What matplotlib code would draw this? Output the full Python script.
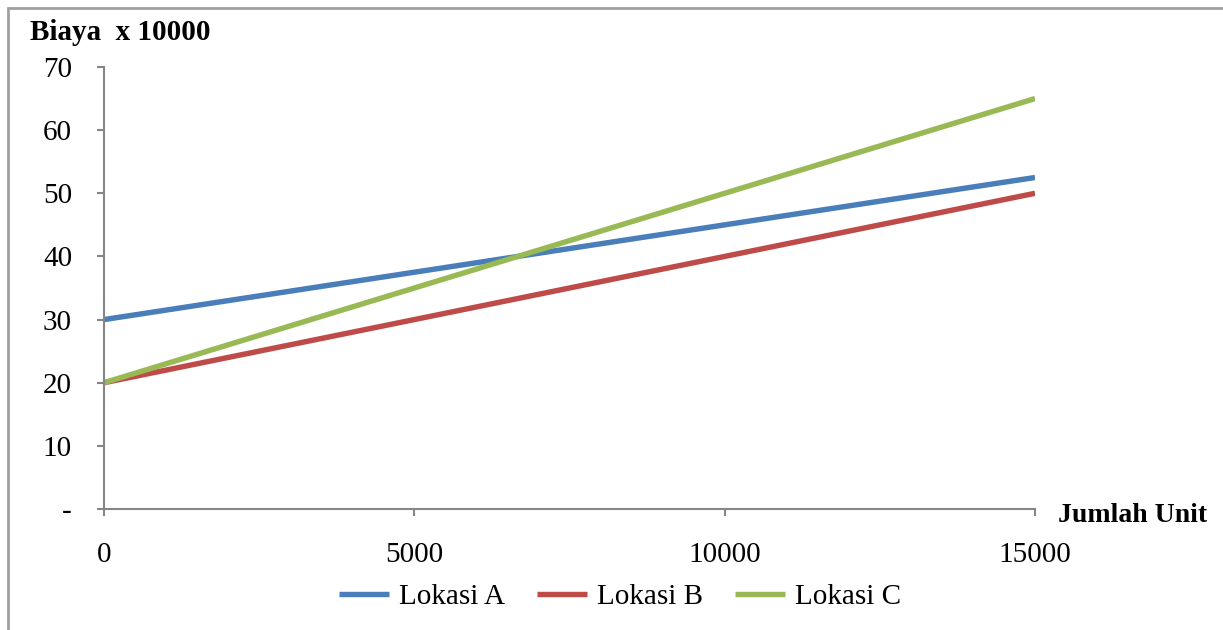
import matplotlib
matplotlib.use("Agg")
import matplotlib.pyplot as plt
from matplotlib.patches import Rectangle

# Biaya (x 10000) per jumlah unit untuk tiga lokasi
units = [0, 5000, 10000, 15000]
lokasi_a = [30, 37.5, 45, 52.5]
lokasi_b = [20, 30, 40, 50]
lokasi_c = [20, 35, 50, 65]
series_names = ["Lokasi A", "Lokasi B", "Lokasi C"]
colors = ["#4A7EBB", "#BE4B48", "#98B954"]
y_ticks = [0, 10, 20, 30, 40, 50, 60, 70]
y_labels = ["-", "10", "20", "30", "40", "50", "60", "70"]
x_ticks = [0, 5000, 10000, 15000]

plt.rcParams["font.family"] = ["Liberation Serif", "DejaVu Serif"]

fig = plt.figure(figsize=(12.23, 6.3), dpi=100)
W, H = 1223, 630
ax = fig.add_axes([104 / W, 1 - 509 / H, (1035 - 104) / W, (509 - 67) / H])

for vals, name, col in zip([lokasi_a, lokasi_b, lokasi_c], series_names, colors):
    ax.plot(units, vals, color=col, lw=3.9, label=name, solid_capstyle="butt")

ax.set_xlim(0, 15000)
ax.set_ylim(0, 70)
ax.set_yticks(y_ticks)
ax.set_yticklabels(y_labels)
ax.set_xticks(x_ticks)
ax.set_xticklabels([str(v) for v in x_ticks])

axis_gray = "#868686"
for side in ["top", "right"]:
    ax.spines[side].set_visible(False)
for side in ["left", "bottom"]:
    ax.spines[side].set_color(axis_gray)
    ax.spines[side].set_linewidth(1.5)
ax.tick_params(axis="both", colors=axis_gray, labelcolor="black", labelsize=21,
               direction="out", length=5, width=1.5)
ax.tick_params(axis="y", pad=18)
ax.tick_params(axis="x", pad=19)

fig.text(30 / W, 1 - 33 / H, "Biaya  x 10000", fontsize=21, fontweight="bold",
         ha="left", va="center")
fig.text(1058 / W, 1 - 515 / H, "Jumlah Unit", fontsize=20, fontweight="bold",
         ha="left", va="center")

leg = fig.legend(loc="center", bbox_to_anchor=(620 / W, 1 - 597 / H), ncol=3,
                 frameon=False, fontsize=21, handlelength=1.7, handletextpad=0.35,
                 columnspacing=1.1)

# chart area border
fig.patches.append(Rectangle((8 / W, -0.1), 1.2, 1 - 8 / H + 0.1, transform=fig.transFigure,
                             fill=False, edgecolor="#A0A0A0", lw=2, figure=fig))

fig.savefig("out.png", dpi=100)
